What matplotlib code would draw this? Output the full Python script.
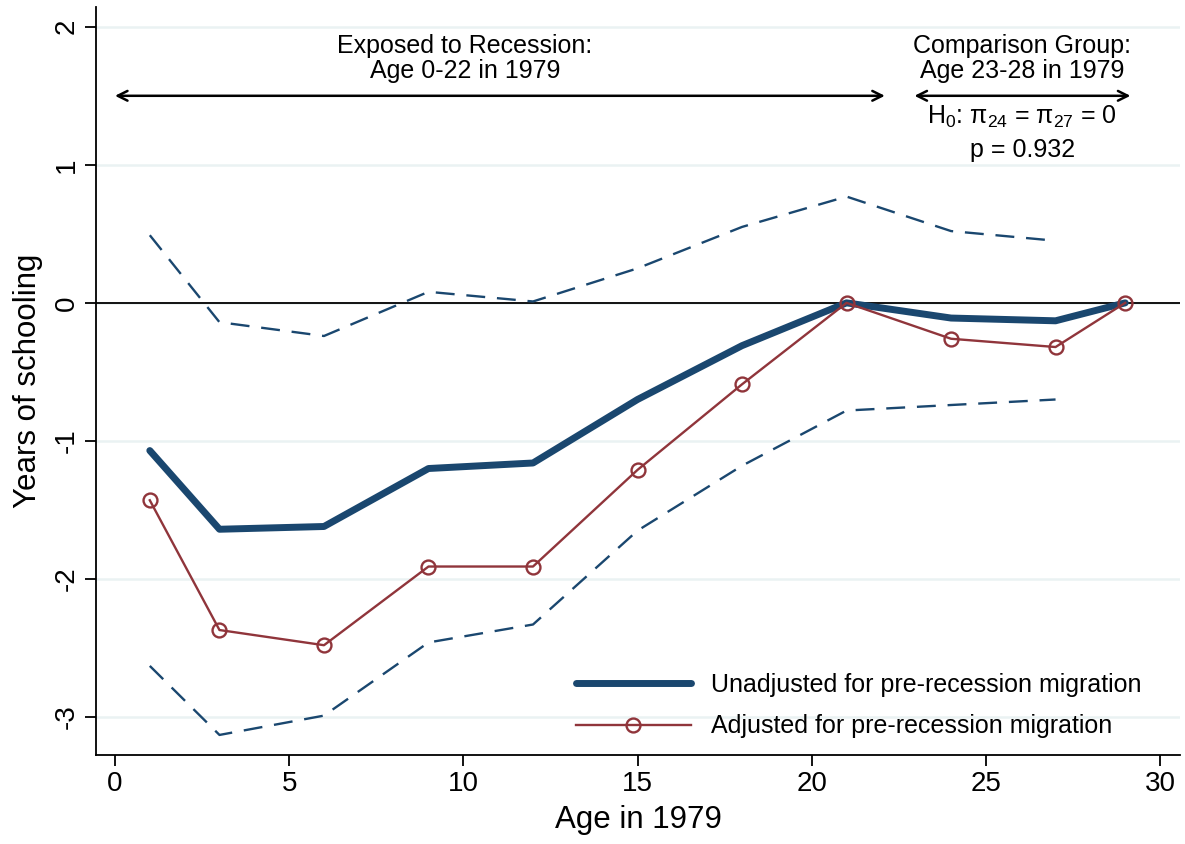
import matplotlib
matplotlib.use("Agg")
import matplotlib.pyplot as plt

plt.rcParams['font.family'] = ['Liberation Sans', 'DejaVu Sans']
plt.rcParams['mathtext.default'] = 'regular'
plt.rcParams['axes.unicode_minus'] = False

ages = [1, 3, 6, 9, 12, 15, 18, 21, 24, 27, 29]
unadjusted = [-1.07, -1.64, -1.62, -1.20, -1.16, -0.70, -0.31, 0.0, -0.11, -0.13, 0.0]
adjusted = [-1.43, -2.37, -2.48, -1.91, -1.91, -1.21, -0.59, 0.0, -0.26, -0.32, 0.0]
ci_ages = [1, 3, 6, 9, 12, 15, 18, 21, 24, 27]
ci_upper = [0.49, -0.14, -0.24, 0.08, 0.01, 0.25, 0.55, 0.77, 0.52, 0.45]
ci_lower = [-2.63, -3.13, -2.99, -2.46, -2.33, -1.65, -1.18, -0.78, -0.74, -0.70]

x_ticks = [0, 5, 10, 15, 20, 25, 30]
y_ticks = [-3, -2, -1, 0, 1, 2]

navy = '#1a476f'
maroon = '#90353b'
grid_c = '#eaf2f3'

fig = plt.figure(figsize=(11.85, 8.44), dpi=100)
ax = fig.add_axes([0.081, 0.1055, 0.915, 0.8865])

for yv in y_ticks:
    ax.axhline(yv, color=grid_c, lw=1.8, zorder=0)
ax.axhline(0, color='black', lw=1.3, zorder=1)

ax.plot(ci_ages, ci_upper, color=navy, lw=1.7, dashes=(8, 5), zorder=2)
ax.plot(ci_ages, ci_lower, color=navy, lw=1.7, dashes=(8, 5), zorder=2)
ax.plot(ages, unadjusted, color=navy, lw=5, solid_capstyle='round', zorder=3,
        label='Unadjusted for pre-recession migration')
ax.plot(ages, adjusted, color=maroon, lw=1.7, marker='o', markersize=10,
        markerfacecolor='none', markeredgecolor=maroon, markeredgewidth=1.7, zorder=4,
        label='Adjusted for pre-recession migration')

ax.set_xlim(-0.545, 30.58)
ax.set_ylim(-3.275, 2.145)
ax.set_xticks(x_ticks)
ax.set_yticks(y_ticks)
ax.tick_params(axis='both', direction='out', length=8, width=1.3, labelsize=20, color='black')
for lab in ax.get_yticklabels():
    lab.set_rotation(90)
    lab.set_va('center')
for s in ['top', 'right']:
    ax.spines[s].set_visible(False)
for s in ['left', 'bottom']:
    ax.spines[s].set_linewidth(1.3)

ax.set_xlabel('Age in 1979', fontsize=22.5, labelpad=6)
ax.set_ylabel('Years of schooling', fontsize=22.5, labelpad=8)

arrow_kw = dict(arrowstyle='<->,head_length=0.7,head_width=0.35', color='black', lw=1.8,
                shrinkA=0, shrinkB=0)
ax.annotate('', xy=(0, 1.5), xytext=(22.1, 1.5), arrowprops=arrow_kw)
ax.annotate('', xy=(22.95, 1.5), xytext=(29.15, 1.5), arrowprops=arrow_kw)

ax.text(10.05, 1.77, 'Exposed to Recession:\nAge 0-22 in 1979', ha='center', va='center',
        fontsize=18, linespacing=1.05)
ax.text(26.05, 1.77, 'Comparison Group:\nAge 23-28 in 1979', ha='center', va='center',
        fontsize=18, linespacing=1.05)
ax.text(26.05, 1.35, 'H$_0$: π$_{24}$ = π$_{27}$ = 0', ha='center', va='center', fontsize=18)
ax.text(26.05, 1.11, 'p = 0.932', ha='center', va='center', fontsize=18)

leg = ax.legend(loc='lower right', bbox_to_anchor=(0.985, -0.008), frameon=False, fontsize=18,
                handlelength=4.6, labelspacing=0.7, handletextpad=0.8)

fig.savefig('out.png', dpi=100)
